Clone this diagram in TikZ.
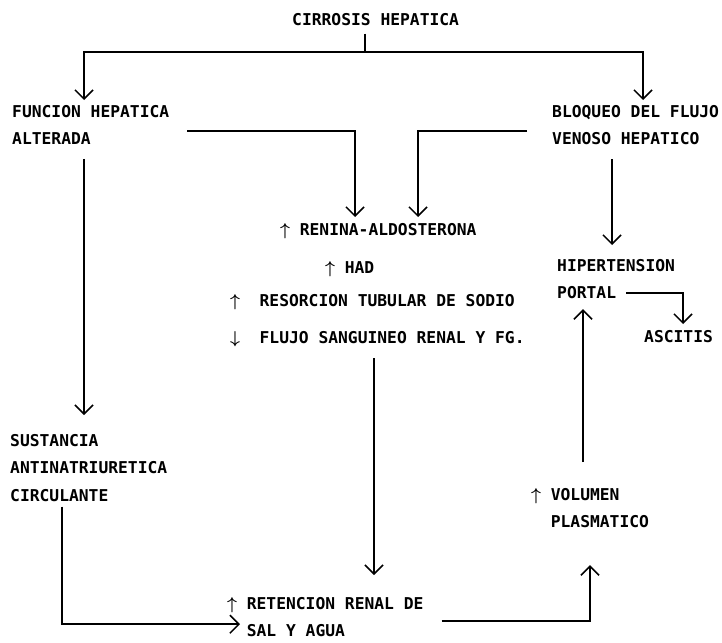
\documentclass[tikz,border=0pt]{standalone}
\usepackage{fontspec}
\setmonofont{DejaVu Sans Mono}
\usetikzlibrary{arrows.meta}
\newcommand{\sube}{\makebox[0.602em]{\boldmath$\uparrow$}}
\newcommand{\baja}{\makebox[0.602em]{\boldmath$\downarrow$}}
\newcommand{\sangria}{\hspace*{1.204em}}
\tikzset{
  txt/.style={font=\ttfamily\bfseries\fontsize{16.3}{27.5}\selectfont, inner sep=0pt, anchor=north west, align=left},
  link/.style={line width=1.5pt},
  arr/.style={link, -{Straight Barb[length=9pt,width=18pt,line width=1.5pt]}}
}

\begin{document}
\begin{tikzpicture}[x=1pt,y=-1pt]
 \useasboundingbox (0,0) rectangle (722,642);
 \node[txt] (cirrosis) at (292,13) {CIRROSIS HEPATICA};
 \node[txt] (funcion) at (12,105) {FUNCION HEPATICA\\ALTERADA};
 \node[txt] (bloqueo) at (552,105) {BLOQUEO DEL FLUJO\\VENOSO HEPATICO};
 \node[txt] (renina) at (280,223) {\sube{} RENINA-ALDOSTERONA};
 \node[txt] (had) at (325,261) {\sube{} HAD};
 \node[txt] (resorcion) at (230,294) {\sube{}\ \ RESORCION TUBULAR DE SODIO};
 \node[txt] (flujo) at (230,331) {\baja{}\ \ FLUJO SANGUINEO RENAL Y FG.};
 \node[txt] (hiper) at (557,259) {HIPERTENSION\\PORTAL};
 \node[txt] (ascitis) at (644,330) {ASCITIS};
 \node[txt] (sustancia) at (10,434) {SUSTANCIA\\ANTINATRIURETICA\\CIRCULANTE};
 \node[txt] (volumen) at (531,488) {\sube{} VOLUMEN\\\sangria PLASMATICO};
 \node[txt] (retencion) at (227,597) {\sube{} RETENCION RENAL DE\\\sangria SAL Y AGUA};
 \coordinate (split) at (365,52);
 \coordinate (colA) at (84,0);
 \coordinate (colB) at (643,0);
 \coordinate (colC) at (355,0);
 \coordinate (colD) at (418,0);
 \coordinate (colE) at (612,0);
 \coordinate (colF) at (683,0);
 \coordinate (colG) at (583,0);
 \coordinate (colH) at (374,0);
 \coordinate (colI) at (62,0);
 \coordinate (colJ) at (590,0);
 \draw[link] (cirrosis.south -| split) ++(0,8) -- (split);
 \draw[arr] (split) -| ([yshift=5pt]funcion.north -| colA);
 \draw[arr] (split) -| ([yshift=5pt]bloqueo.north -| colB);
 \draw[arr] ([xshift=18pt,yshift=-6pt]funcion.east) -| ([yshift=6pt]renina.north -| colC);
 \draw[arr] ([xshift=-25pt,yshift=-6pt]bloqueo.west) -| ([yshift=6pt]renina.north -| colD);
 \draw[arr] ([yshift=-14pt]funcion.south -| colA) -- ([yshift=19pt]sustancia.north -| colA);
 \draw[arr] ([yshift=-14pt]bloqueo.south -| colE) -- ([yshift=14pt]hiper.north -| colE);
 \draw[arr] ([xshift=69pt,yshift=6pt]hiper.south west) -| ([yshift=6pt]ascitis.north -| colF);
 \draw[arr] ([yshift=26pt]volumen.north -| colG) -- ([yshift=-10pt]hiper.south -| colG);
 \draw[arr] ([yshift=-27pt]flujo.north -| colH) -- ([yshift=22pt]retencion.north -| colH);
 \draw[arr] ([yshift=-5pt]sustancia.south -| colI) |- ([xshift=13pt,yshift=13pt]retencion.south west);
 \draw[arr] ([xshift=18pt,yshift=16pt]retencion.south east) -| ([yshift=-37pt]volumen.south -| colJ);
\end{tikzpicture}
\end{document}
